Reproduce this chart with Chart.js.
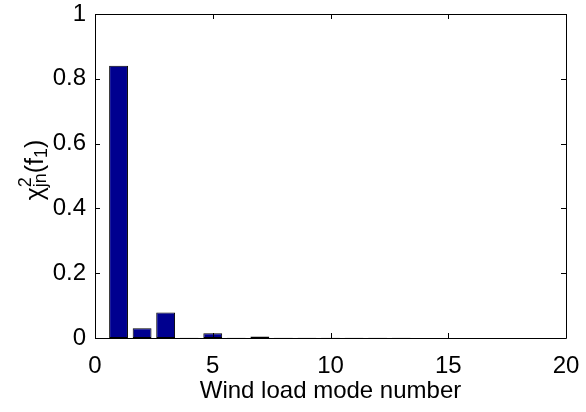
<!DOCTYPE html>
<html><head><meta charset="utf-8">
<script src="https://cdn.jsdelivr.net/npm/chart.js@4/dist/chart.umd.min.js"></script>
<style>html,body{margin:0;padding:0;background:#fff}#c{display:block}</style>
</head><body>
<canvas id="c" width="586" height="412"></canvas>
<script>
const modes = [1,2,3,4,5,6,7,8,9,10,11,12,13,14,15,16,17,18,19];
const chi2  = [0.840,0.030,0.079,0.001,0.0145,0.001,0.005,0.0008,0.0006,0.0005,0.0005,0.0004,0.0004,0.0003,0.0003,0.0003,0.0003,0.0002,0.0002];
const xTicks = [0,5,10,15,20];
const yTicks = [0,0.2,0.4,0.6,0.8,1];
const xTitle = 'Wind load mode number';

const FONT = 'Liberation Sans, Arial, Helvetica, sans-serif';
const FS = 24;

const boxPlugin = {
  id:'box',
  afterDraw(chart){
    const {ctx, chartArea:a, scales:{x,y}} = chart;
    ctx.save();
    ctx.strokeStyle='#000'; ctx.lineWidth=1;
    ctx.beginPath();
    ctx.rect(Math.round(a.left)+0.5, Math.round(a.top)+0.5, Math.round(a.right-a.left), Math.round(a.bottom-a.top));
    ctx.stroke();
    const L=5;
    ctx.beginPath();
    xTicks.forEach(v=>{const px=Math.round(x.getPixelForValue(v))+0.5;
      ctx.moveTo(px,a.bottom); ctx.lineTo(px,a.bottom-L);
      ctx.moveTo(px,a.top); ctx.lineTo(px,a.top+L);});
    yTicks.forEach(v=>{const py=Math.round(y.getPixelForValue(v))+0.5;
      ctx.moveTo(a.left,py); ctx.lineTo(a.left+L,py);
      ctx.moveTo(a.right,py); ctx.lineTo(a.right-L,py);});
    ctx.stroke();
    // y-axis label chi^2_jn(f_1)
    const cy=(a.top+a.bottom)/2;
    ctx.translate(43, cy-6); ctx.rotate(-Math.PI/2);
    ctx.fillStyle='#000'; ctx.textBaseline='alphabetic'; ctx.textAlign='left';
    const main = '25px '+FONT, sub = '18px '+FONT;
    const parts=[
      {t:'\u03C7',f:main,dy:0,adv:true},
      {t:'2',f:sub,dy:-12,adv:false},
      {t:'jn',f:sub,dy:3,adv:true},
      {t:'(f',f:main,dy:0,adv:true},
      {t:'1',f:sub,dy:4,adv:true},
      {t:')',f:main,dy:0,adv:true}];
    let total=0;
    parts.forEach(p=>{ctx.font=p.f; p.w=ctx.measureText(p.t).width; if(p.adv) total+=p.w;});
    let xx=-total/2;
    parts.forEach(p=>{ctx.font=p.f; ctx.fillText(p.t,xx,p.dy); if(p.adv) xx+=p.w;});
    ctx.restore();
  }
};

new Chart(document.getElementById('c'),{
  type:'bar',
  data:{datasets:[{
    data: modes.map((m,i)=>({x:m,y:chi2[i]})),
    backgroundColor:'#00008F',
    borderColor:'#000',
    borderWidth:1,
    borderSkipped:false,
    barPercentage:0.8,
    categoryPercentage:1
  }]},
  options:{
    responsive:false, animation:false, devicePixelRatio:1,
    layout:{padding:{top:14,right:20,left:0,bottom:0}},
    plugins:{legend:{display:false},tooltip:{enabled:false}},
    scales:{
      x:{type:'linear',min:0,max:20,offset:false,
        afterBuildTicks(s){s.ticks=xTicks.map(v=>({value:v}));},
        afterFit(s){s.height=74; s.paddingLeft=0; s.paddingRight=0;},
        grid:{display:false,drawTicks:false,offset:false},border:{display:false},
        ticks:{color:'#000',font:{family:FONT,size:FS},padding:14,maxRotation:0,autoSkip:false},
        title:{display:true,text:xTitle,color:'#000',font:{family:FONT,size:FS},padding:{top:0,bottom:6}}
      },
      y:{min:0,max:1,
        afterBuildTicks(s){s.ticks=yTicks.map(v=>({value:v}));},
        afterFit(s){s.width=95; s.paddingTop=0; s.paddingBottom=0;},
        grid:{display:false,drawTicks:false},border:{display:false},
        ticks:{color:'#000',font:{family:FONT,size:FS},padding:9,autoSkip:false,
          callback:v=>String(v)}
      }
    }
  },
  plugins:[boxPlugin]
});
</script>
</body></html>
